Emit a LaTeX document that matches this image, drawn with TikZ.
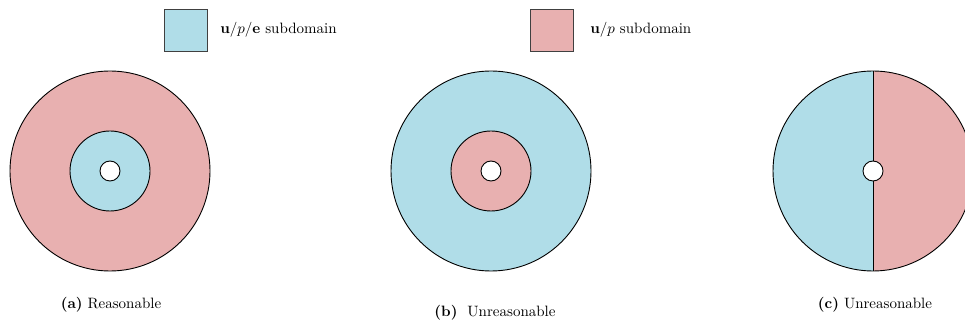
\documentclass[tikz,border=0pt]{standalone}
\usepackage{amsmath}
\definecolor{upe}{RGB}{176,221,232}
\definecolor{up}{RGB}{232,176,176}
\begin{document}
\begin{tikzpicture}[x=0.6667pt,y=-0.6667pt,
  ring/.style={draw=black,line width=0.6pt},
  legbox/.style={draw=black!75,line width=0.6pt,minimum width=28.7pt,minimum height=28pt,inner sep=0pt},
  legtext/.style={anchor=west,inner sep=0pt},
  captext/.style={inner sep=0pt}]
\useasboundingbox (0,0) rectangle (965,324);
\clip (0,0) rectangle (965,324);
% legend
\node[legbox,fill=upe] (lb1) at (185.5,30) {};
\node[legtext] (lt1) at (220,30) {$\mathbf{u}/p/\mathbf{e}$ subdomain};
\node[legbox,fill=up] (lb2) at (551.5,30) {};
\node[legtext] (lt2) at (590,30) {$\mathbf{u}/p$ subdomain};
% (a)
\filldraw[ring,fill=up] (110,171) circle (100);
\filldraw[ring,fill=upe] (110,171) circle (40);
\filldraw[ring,fill=white] (110,171) circle (10);
% (b)
\filldraw[ring,fill=upe] (491,171) circle (100);
\filldraw[ring,fill=up] (491,171) circle (40);
\filldraw[ring,fill=white] (491,171) circle (10);
% (c)
\fill[upe] (873,71) arc[start angle=-90,end angle=-270,radius=100] -- cycle;
\fill[up] (873,71) arc[start angle=-90,end angle=90,radius=100] -- cycle;
\draw[ring] (873,171) circle (100);
\draw[ring] (873,71) -- (873,271);
\filldraw[ring,fill=white] (873,171) circle (10);
% captions
\node[captext] (ca) at (111,305) {\textbf{(a)} Reasonable};
\node[captext] (cb) at (495,313) {\textbf{(b)}\ \ Unreasonable};
\node[captext] (cc) at (875,305) {\textbf{(c)} Unreasonable};
\end{tikzpicture}
\end{document}
